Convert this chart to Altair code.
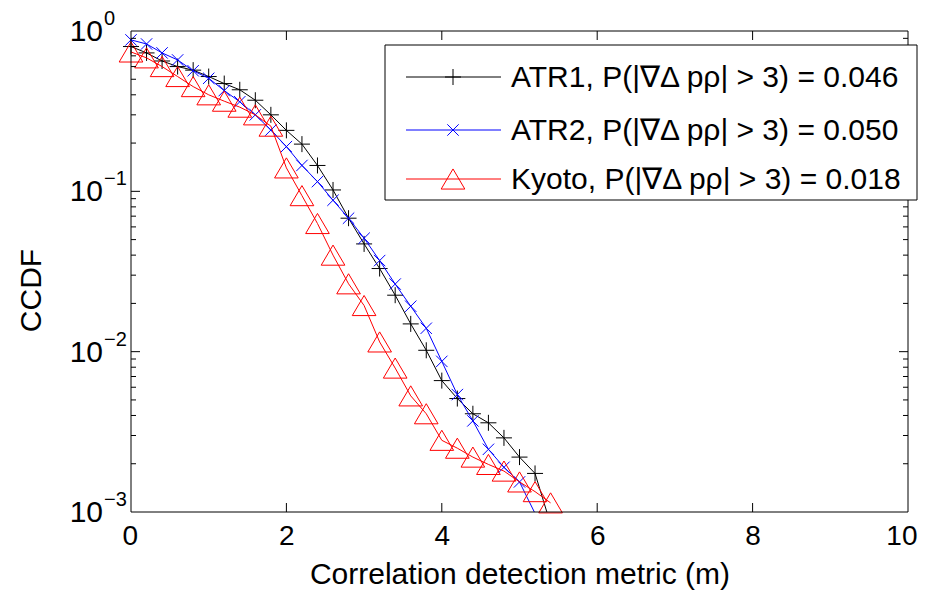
import altair as alt
import pandas as pd

# ---------------- data ----------------
atr1_m = [0.0, 0.2, 0.4, 0.6, 0.8, 1.0, 1.2, 1.4, 1.6, 1.8, 2.0, 2.2, 2.4, 2.6,
          2.8, 3.0, 3.2, 3.4, 3.6, 3.8, 4.0, 4.2, 4.4, 4.6, 4.8, 5.0, 5.2, 5.4]
atr1_v = [0.80, 0.73, 0.65, 0.60, 0.57, 0.52, 0.47, 0.43, 0.37, 0.30, 0.24, 0.197,
          0.145, 0.102, 0.068, 0.047, 0.033, 0.0225, 0.0149, 0.0102, 0.0066, 0.0051,
          0.0041, 0.0036, 0.0029, 0.0022, 0.00174, 0.00084]

atr2_m = [0.0, 0.2, 0.4, 0.6, 0.8, 1.0, 1.2, 1.4, 1.6, 1.8, 2.0, 2.2, 2.4, 2.6,
          2.8, 3.0, 3.2, 3.4, 3.6, 3.8, 4.0, 4.2, 4.4, 4.6, 4.8, 5.0, 5.2]
atr2_v = [0.88, 0.83, 0.73, 0.66, 0.565, 0.507, 0.425, 0.362, 0.30, 0.241, 0.19,
          0.145, 0.115, 0.088, 0.068, 0.051, 0.037, 0.0264, 0.0192, 0.014, 0.0087,
          0.0054, 0.0037, 0.00246, 0.0019, 0.00154, 0.00098]

kyoto_m = [0.0, 0.2, 0.4, 0.6, 0.8, 1.0, 1.2, 1.4, 1.6, 1.8, 2.0, 2.2, 2.4, 2.6,
           2.8, 3.0, 3.2, 3.4, 3.6, 3.8, 4.0, 4.2, 4.4, 4.6, 4.8, 5.0, 5.2, 5.4]
kyoto_v = [0.74, 0.68, 0.60, 0.52, 0.45, 0.40, 0.365, 0.335, 0.30, 0.255, 0.14,
           0.094, 0.063, 0.040, 0.0265, 0.0194, 0.0115, 0.0079, 0.0053, 0.0041,
           0.0028, 0.0025, 0.0022, 0.00198, 0.0018, 0.00154, 0.00134, 0.00114]

series_names = ["ATR1", "ATR2", "Kyoto"]
legend_labels = ["ATR1, P(|∇Δ pρ| > 3) = 0.046",
                 "ATR2, P(|∇Δ pρ| > 3) = 0.050",
                 "Kyoto, P(|∇Δ pρ| > 3) = 0.018"]
series_colors = ["#000000", "#0000ff", "#ff0000"]

x_tick_values = [0, 2, 4, 6, 8, 10]
x_inner_ticks = [2, 4, 6, 8]
y_major_values = [1, 0.1, 0.01, 0.001]
y_exponents = ["0", "−1", "−2", "−3"]
y_inner_major = [0.1, 0.01]
y_minor = [2e-3, 3e-3, 4e-3, 5e-3, 6e-3, 7e-3, 8e-3, 9e-3,
           2e-2, 3e-2, 4e-2, 5e-2, 6e-2, 7e-2, 8e-2, 9e-2,
           0.2, 0.3, 0.4, 0.5, 0.6, 0.7, 0.8, 0.9]

# ---------------- layout ----------------
W, H = 777, 481
FONT = "Liberation Sans"
PLUS = "M-1,0L1,0M0,-1L0,1"
XMARK = "M-1,-1L1,1M-1,1L1,-1"
TRI = "M0,-0.85L-1,0.85L1,0.85Z"
shapes = [PLUS, XMARK, TRI]
sizes = [256, 130, 560]

xs = alt.Scale(domain=[0, 10], nice=False, zero=False)
ys = alt.Scale(type="log", domain=[0.001, 1], nice=False)

X = alt.X("m:Q", scale=xs)
Y = alt.Y("v:Q", scale=ys)

frames = [
    pd.DataFrame({"m": atr1_m, "v": atr1_v}),
    pd.DataFrame({"m": atr2_m, "v": atr2_v}),
    pd.DataFrame({"m": kyoto_m, "v": kyoto_v}),
]

layers = []

# base chart carrying axes titles / x labels
base = alt.Chart(pd.DataFrame({"m": [0, 10], "v": [0.001, 1]})).mark_point(opacity=0).encode(
    x=alt.X("m:Q", scale=xs, axis=alt.Axis(
        values=x_tick_values, format="d", domain=False, ticks=False, grid=False,
        labelFontSize=28, labelFont=FONT, labelColor="black", labelPadding=10,
        labelFlush=True, labelFlushOffset=9,
        title="Correlation detection metric (m)", titleFont=FONT, titleFontSize=30,
        titleFontWeight="normal", titleColor="black", titlePadding=9)),
    y=alt.Y("v:Q", scale=ys, axis=alt.Axis(
        labels=False, domain=False, ticks=False, grid=False,
        title="CCDF", titleFont=FONT, titleFontSize=30, titleFontWeight="normal",
        titleColor="black", titlePadding=85, titleY=259)),
)
layers.append(base)

for df, col, shp, sz in zip(frames, series_colors, shapes, sizes):
    line = alt.Chart(df).mark_line(color=col, strokeWidth=1, clip=True).encode(x=X, y=Y)
    pts = alt.Chart(df).transform_filter("datum.v >= 0.001").mark_point(
        shape=shp, size=sz, filled=False, color=col, strokeWidth=1, opacity=1
    ).encode(x=X, y=Y)
    layers += [line, pts]

# inward ticks
xt = pd.DataFrame({"m": x_inner_ticks})
for y0, y1 in [(H, H - 9), (0, 9)]:
    layers.append(alt.Chart(xt).mark_rule(color="black", strokeWidth=1).encode(
        x=X, y=alt.value(y0), y2=alt.value(y1)))
ytm = pd.DataFrame({"v": y_inner_major})
ytn = pd.DataFrame({"v": y_minor})
for df_t, ln in [(ytm, 9), (ytn, 5)]:
    for x0, x1 in [(0, ln), (W, W - ln)]:
        layers.append(alt.Chart(df_t).mark_rule(color="black", strokeWidth=1).encode(
            y=Y, x=alt.value(x0), x2=alt.value(x1)))

# y tick labels 10^k
ylab = pd.DataFrame({"v": y_major_values, "e": y_exponents})
layers.append(alt.Chart(ylab).mark_text(
    align="right", baseline="middle", fontSize=30, font=FONT, color="black", dy=1
).encode(y=Y, x=alt.value(-28), text=alt.value("10")))
layers.append(alt.Chart(ylab).mark_text(
    align="left", baseline="middle", fontSize=20, font=FONT, color="black", dy=-12
).encode(y=Y, x=alt.value(-27), text="e:N"))

# border of the axes box
layers.append(alt.Chart(pd.DataFrame({"a": [0]})).mark_rect(
    fill=None, fillOpacity=0, stroke="black", strokeWidth=1).encode(
    x=alt.value(0), x2=alt.value(W), y=alt.value(0), y2=alt.value(H)))

# legend (manual, MATLAB style)
one = pd.DataFrame({"a": [0]})
layers.append(alt.Chart(one).mark_rect(fill="white", stroke="black", strokeWidth=1).encode(
    x=alt.value(254), x2=alt.value(786), y=alt.value(14), y2=alt.value(169)))
row_y = [46, 99, 148]
for ry, col, shp, sz, lab in zip(row_y, series_colors, shapes, sizes, legend_labels):
    layers.append(alt.Chart(one).mark_rule(color=col, strokeWidth=1).encode(
        x=alt.value(275), x2=alt.value(370), y=alt.value(ry)))
    layers.append(alt.Chart(one).mark_point(
        shape=shp, size=sz, filled=False, color=col, strokeWidth=1, opacity=1
    ).encode(x=alt.value(322), y=alt.value(ry)))
    layers.append(alt.Chart(one).mark_text(
        align="left", baseline="middle", fontSize=30, font=FONT, color="black"
    ).encode(x=alt.value(380), y=alt.value(ry + 1), text=alt.value(lab)))

chart = alt.layer(*layers).properties(
    width=W, height=H,
    background="white",
    autosize=alt.AutoSizeParams(type="none"),
    padding={"left": 123, "top": 23, "right": 10, "bottom": 80},
).configure_view(stroke=None)

chart.save("out.html", embed_options={"renderer": "svg", "actions": False})
